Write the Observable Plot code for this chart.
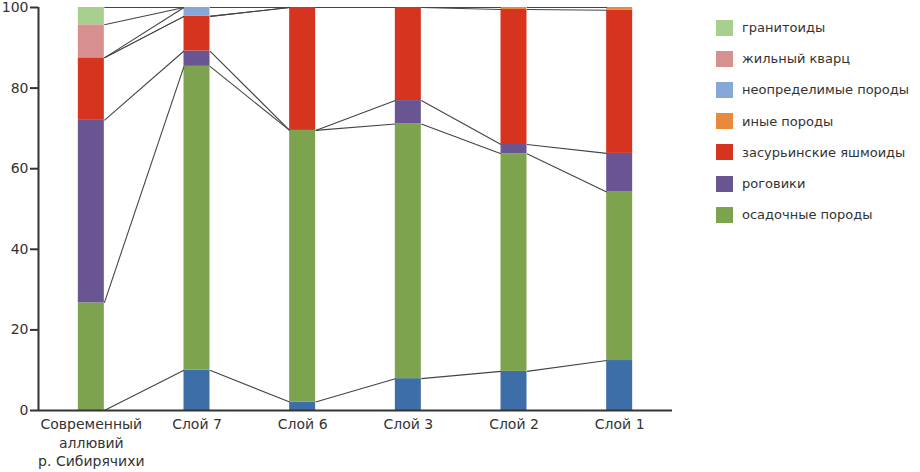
<!DOCTYPE html>
<html>
<head>
<meta charset="utf-8">
<script src="https://cdn.jsdelivr.net/npm/d3@7"></script>
<script src="https://cdn.jsdelivr.net/npm/@observablehq/plot@0.6"></script>
<style>
  html, body { margin: 0; padding: 0; background: #fff; }
  #wrap { position: relative; width: 920px; height: 472px; font-family: "DejaVu Sans", sans-serif; color: #333; overflow: hidden; }
  #legend { position: absolute; left: 716px; top: 12px; font-size: 13px; white-space: nowrap; }
  .row { display: flex; align-items: center; height: 31.2px; }
  .sw { width: 17px; height: 16px; margin-right: 9px; flex: none; }
</style>
</head>
<body>
<div id="wrap"><div id="chart"></div><div id="legend"></div></div>
<script>
// Categories (x axis)
const categories = ["Современный\nаллювий\nр. Сибирячихи", "Слой 7", "Слой 6", "Слой 3", "Слой 2", "Слой 1"];

// Series values (percent), bottom to top of each stack
const baseBlue     = [0,    10,   2.1,  7.9,  9.7,  12.4];
const osadochnye   = [26.7, 75.4, 67.4, 63.2, 54.0, 41.8];
const rogoviki     = [45.3, 3.8,  0,    5.8,  2.3,  9.6];
const zasurinskie  = [15.5, 8.6,  30.5, 23.1, 33.5, 35.5];
const inye         = [0,    0,    0,    0,    0.5,  0.7];
const neopredelimye= [0,    2.2,  0,    0,    0,    0];
const kvarts       = [8.2,  0,    0,    0,    0,    0];
const granitoidy   = [4.3,  0,    0,    0,    0,    0];

// Series names (legend), in stacking order; blank = not in legend
const seriesNames = ["", "осадочные породы", "роговики", "засурьинские яшмоиды", "иные породы", "неопределимые породы", "жильный кварц", "гранитоиды"];
const seriesColors = ["#3d6ea7", "#7ea34f", "#6a5593", "#d6341f", "#e8893b", "#86a8d8", "#d8908f", "#a7cf8e"];
const seriesValues = [baseBlue, osadochnye, rogoviki, zasurinskie, inye, neopredelimye, kvarts, granitoidy];

// y tick labels
const yTicks = [0, 20, 40, 60, 80, 100];

// Build stacked table
const hw = 0.123; // half bar width in category units
const segs = [];
const tops = seriesNames.map(() => []);
categories.forEach((c, i) => {
  let cum = 0;
  seriesValues.forEach((vals, s) => {
    const y1 = cum; cum += vals[i];
    tops[s][i] = cum;
    if (vals[i] > 0) segs.push({i, s, y1, y2: cum});
  });
});
const links = [];
seriesNames.forEach((n, s) => {
  for (let i = 0; i < categories.length - 1; i++) {
    links.push({x1: i + hw, x2: i + 1 - hw, y1: tops[s][i], y2: tops[s][i + 1]});
  }
});

const chart = Plot.plot({
  width: 920,
  height: 472,
  marginLeft: 38,
  marginRight: 248,
  marginTop: 7,
  marginBottom: 62,
  style: {fontFamily: "DejaVu Sans, sans-serif", fontSize: "14px", color: "#333", background: "transparent"},
  x: {type: "linear", domain: [-0.5, categories.length - 0.5]},
  y: {domain: [0, 100]},
  marks: [
    Plot.rectY(segs, {x1: d => d.i - hw, x2: d => d.i + hw, y1: "y1", y2: "y2", fill: d => seriesColors[d.s]}),
    Plot.link(links, {x1: "x1", x2: "x2", y1: "y1", y2: "y2", stroke: "#444", strokeWidth: 1.1}),
    Plot.ruleX([-0.5], {stroke: "#333", strokeWidth: 2}),
    Plot.ruleY([0], {stroke: "#333", strokeWidth: 2}),
    Plot.axisY({ticks: yTicks, tickSize: 8, tickPadding: 2, label: null, stroke: "#333", strokeWidth: 2, fill: "#333"}),
    Plot.axisX({ticks: d3.range(categories.length), tickFormat: i => categories[i], tickSize: 0, tickPadding: 6, label: null, lineHeight: 1.3, fill: "#333"})
  ]
});
document.getElementById("chart").appendChild(chart);

const legend = document.getElementById("legend");
seriesNames.map((n, s) => ({n, c: seriesColors[s]})).filter(d => d.n).reverse().forEach(d => {
  const row = document.createElement("div");
  row.className = "row";
  row.innerHTML = `<div class="sw" style="background:${d.c}"></div><span>${d.n}</span>`;
  legend.appendChild(row);
});
</script>
</body>
</html>
